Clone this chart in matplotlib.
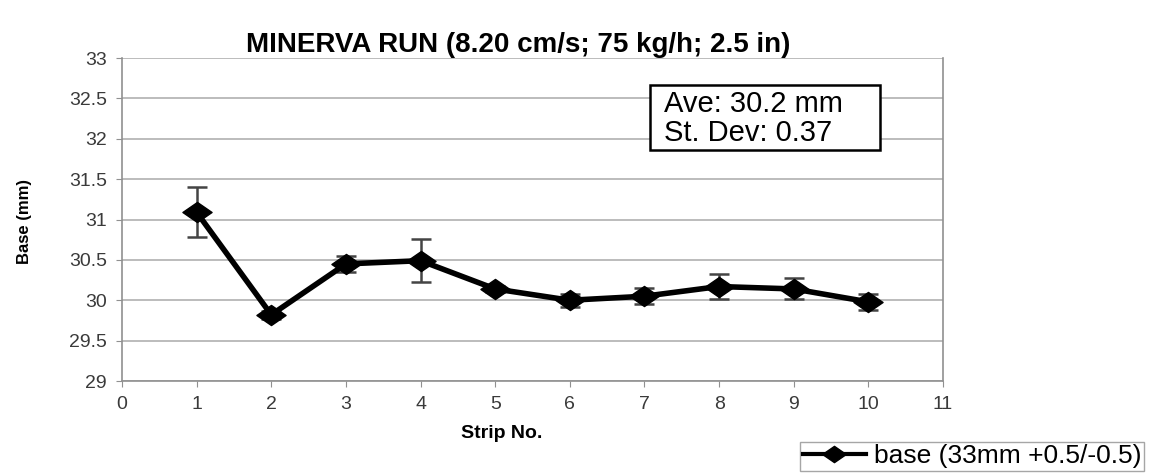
import matplotlib
matplotlib.use("Agg")
import matplotlib.pyplot as plt
from matplotlib.lines import Line2D
from matplotlib.path import Path
from matplotlib.patches import Rectangle

plt.rcParams['font.family'] = ['Liberation Sans', 'DejaVu Sans']

strips = [1, 2, 3, 4, 5, 6, 7, 8, 9, 10]
base = [31.09, 29.82, 30.45, 30.49, 30.14, 30.00, 30.05, 30.17, 30.14, 29.98]
err = [0.31, 0.05, 0.10, 0.27, 0.04, 0.08, 0.10, 0.15, 0.13, 0.10]
title = "MINERVA RUN (8.20 cm/s; 75 kg/h; 2.5 in)"
legend_label = "base (33mm +0.5/-0.5)"
stats_lines = ["Ave: 30.2 mm", "St. Dev: 0.37"]

# wide diamond marker (reference is horizontally stretched)
wide_diamond = Path([(-1.45, 0), (0, 1), (1.45, 0), (0, -1), (-1.45, 0)],
                    [Path.MOVETO, Path.LINETO, Path.LINETO, Path.LINETO, Path.CLOSEPOLY])

W, H = 1150, 473
fig = plt.figure(figsize=(W / 100, H / 100), dpi=100)
ax = fig.add_axes([122 / W, 1 - 381 / H, (943 - 122) / W, (381 - 58) / H])

ax.set_xlim(0, 11)
ax.set_ylim(29, 33)
ax.set_xticks(range(0, 12))
ax.set_yticks([29 + 0.5 * i for i in range(9)])
ax.set_yticklabels([f"{29 + 0.5 * i:g}" for i in range(9)])
ax.yaxis.grid(True, color='#b0b0b0', linewidth=1.2)
ax.set_axisbelow(True)
for s in ['left', 'bottom', 'right']:
    ax.spines[s].set_color('#909090')
    ax.spines[s].set_linewidth(1.2)
ax.spines['top'].set_visible(False)
ax.tick_params(axis='both', direction='out', length=4, color='#909090',
               labelsize=14, labelcolor='#3a3a3a', pad=7)

ax.errorbar(strips, base, yerr=err, fmt='none', ecolor='#444444',
            elinewidth=1.8, capsize=7, capthick=1.8, zorder=3)
ax.plot(strips, base, color='black', linewidth=4, marker=wide_diamond,
        markersize=21, zorder=4)

fig.text(502 / W, 1 - 434 / H, "Strip No.", fontsize=14, fontweight='bold',
         ha='center', va='center')
fig.text(24 / W, 1 - 221 / H, "Base (mm)", fontsize=12, fontweight='bold',
         ha='center', va='center', rotation=90)
fig.text(518 / W, 1 - 45 / H, title, fontsize=20, fontweight='bold',
         ha='center', va='center')

# statistics box
fig.patches.append(Rectangle((650 / W, 1 - 150 / H), 230 / W, 65 / H,
                             transform=fig.transFigure, facecolor='white',
                             edgecolor='black', linewidth=1.8, zorder=5))
fig.text(664 / W, 1 - 104 / H, stats_lines[0], fontsize=21, ha='left',
         va='center', zorder=6)
fig.text(664 / W, 1 - 133 / H, stats_lines[1], fontsize=21, ha='left',
         va='center', zorder=6)

handle = Line2D([], [], color='black', linewidth=3, marker=wide_diamond,
                markersize=17)
leg = fig.legend([handle], [legend_label], loc='lower right',
                 bbox_to_anchor=(1144 / W, 1 - 471 / H), fontsize=19,
                 frameon=True, fancybox=False, edgecolor='#909090',
                 handlelength=2.4, borderpad=0.1, handletextpad=0.3,
                 borderaxespad=0)
leg.get_frame().set_linewidth(1.0)

fig.savefig("out.png", dpi=100, facecolor='white')
